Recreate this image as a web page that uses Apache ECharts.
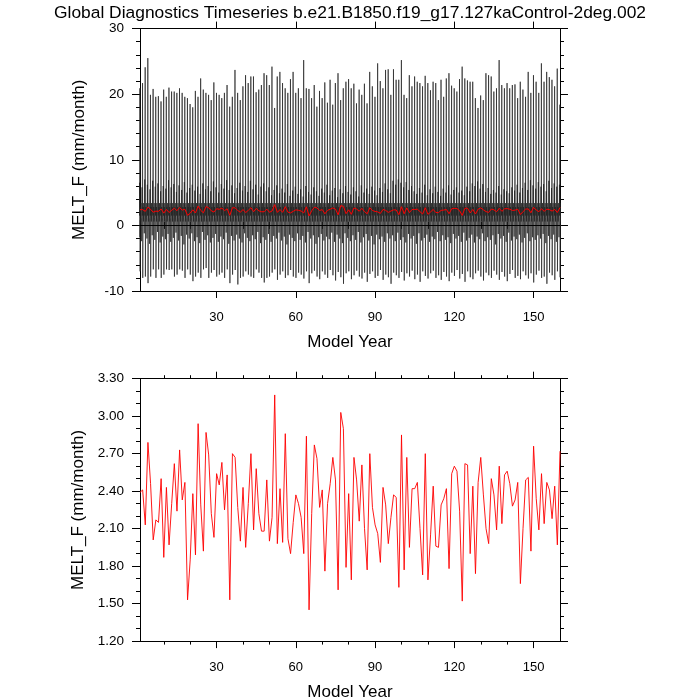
<!DOCTYPE html>
<html><head><meta charset="utf-8">
<script src="https://cdn.jsdelivr.net/npm/echarts@6/dist/echarts.min.js"></script>
<style>html,body{margin:0;padding:0;background:#fff}#c{width:700px;height:700px}</style>
</head><body><div id="c"></div>
<script>
const FONT = '"Liberation Sans", Arial, Helvetica, sans-serif';
const titleText = 'Global Diagnostics Timeseries b.e21.B1850.f19_g17.127kaControl-2deg.002';
const yName = 'MELT_F (mm/month)';
const xName = 'Model Year';

// annual means (red line), model years 1..160
const annualMean = [
2.39,2.41,2.13,2.79,2.46,2.01,2.17,2.15,2.50,1.87,
2.43,1.97,2.30,2.62,2.24,2.73,2.33,2.47,1.53,1.85,
2.38,1.89,2.94,2.29,1.92,2.87,2.69,2.22,2.03,2.54,
2.45,2.63,2.25,2.53,1.53,2.70,2.67,2.27,2.00,2.43,
1.95,2.30,2.70,2.09,2.58,2.22,2.08,2.08,2.49,2.00,
2.19,3.17,1.98,2.42,1.99,2.86,2.02,1.90,2.15,2.37,
2.30,2.19,1.90,2.84,1.45,2.22,2.77,2.66,2.27,2.41,
1.76,2.30,2.46,2.67,2.49,1.61,3.03,2.90,1.79,2.38,
1.69,2.67,2.49,2.16,2.61,2.10,1.77,2.70,2.27,2.13,
2.06,1.83,2.43,2.29,1.98,2.19,2.37,2.35,1.63,2.85,
1.77,2.67,1.95,2.42,2.42,2.47,2.10,1.73,2.70,1.69,
2.05,2.44,1.96,1.95,2.29,2.34,2.42,1.78,2.54,2.60,
2.56,2.24,1.52,2.62,2.61,1.90,2.44,1.74,2.47,2.67,
2.37,2.10,1.98,2.50,2.37,2.09,2.60,2.14,2.53,2.56,
2.46,2.28,2.33,2.47,1.66,2.10,2.49,2.51,1.92,2.76,
2.34,2.09,2.54,2.14,2.47,2.41,2.18,2.44,1.97,2.72];

// monthly series: yearly maximum month (estimated from the top panel)
const monthlyPeak = [
20.9,21.7,24.1,25.5,19.9,20.8,19.6,19.7,18.9,20.7,
19.6,21.0,20.4,20.4,20.2,20.9,20.2,19.6,19.4,18.5,
18.0,20.5,19.6,22.4,20.7,20.2,19.9,19.1,21.8,20.2,
19.9,19.4,20.2,21.4,18.1,19.6,23.7,20.2,19.1,21.2,
22.9,21.7,22.7,22.7,20.3,20.7,21.4,23.2,22.9,21.4,
24.2,17.9,22.7,23.4,21.7,20.9,20.2,22.3,23.4,20.2,
20.9,19.4,25.2,20.9,20.8,19.4,21.4,18.1,20.5,19.4,
21.8,18.7,22.2,18.4,21.7,23.2,19.1,20.9,21.9,22.3,
20.9,21.6,18.6,20.7,19.9,21.6,18.6,23.4,21.2,19.6,
24.7,22.0,20.9,23.7,23.8,19.9,23.8,22.2,22.2,25.2,
19.9,19.4,22.9,21.2,22.7,21.9,21.7,21.2,22.8,21.7,
20.6,21.9,21.7,19.1,22.2,19.6,22.4,23.2,21.3,20.9,
20.4,22.3,24.2,22.4,22.1,21.9,21.9,19.4,17.9,19.8,
19.1,23.2,22.9,22.7,20.4,20.9,25.2,21.4,20.9,21.7,
20.9,21.4,21.5,19.4,21.9,20.7,19.6,23.4,20.2,22.9,
21.9,20.2,24.7,21.9,23.4,22.6,22.2,21.2,23.9,18.4];

// monthly series: yearly minimum month (estimated)
const monthlyTrough = [
-7.0,-8.0,-7.8,-8.8,-7.8,-6.7,-8.0,-6.7,-8.0,-7.5,
-6.7,-6.8,-6.7,-7.8,-7.5,-6.7,-6.9,-8.0,-6.7,-7.5,
-8.5,-7.8,-7.2,-8.0,-6.7,-6.5,-8.0,-7.2,-6.8,-7.8,
-7.5,-7.2,-8.0,-6.7,-8.8,-7.5,-6.8,-9.0,-8.0,-7.8,
-7.0,-7.5,-7.8,-8.0,-6.7,-7.2,-8.0,-8.7,-8.0,-7.8,
-7.2,-6.7,-8.3,-7.5,-7.0,-8.0,-7.6,-6.8,-7.8,-8.0,
-7.2,-7.5,-8.1,-7.0,-8.8,-7.3,-6.9,-7.8,-8.2,-7.0,
-7.5,-8.0,-6.8,-7.6,-8.4,-7.1,-7.9,-8.9,-7.3,-7.0,
-8.2,-7.6,-6.9,-7.8,-8.1,-7.2,-8.6,-7.4,-7.0,-8.0,
-7.7,-6.8,-8.3,-7.5,-7.9,-8.9,-7.2,-7.6,-8.0,-7.1,
-8.4,-7.3,-7.8,-6.9,-8.2,-7.5,-8.6,-7.0,-7.7,-8.1,
-7.3,-6.9,-8.0,-7.6,-8.3,-7.1,-7.8,-8.5,-7.2,-7.7,
-6.8,-8.1,-7.4,-8.6,-7.0,-7.9,-8.2,-7.3,-6.9,-7.8,
-8.4,-7.2,-7.6,-8.0,-6.9,-7.5,-8.3,-7.1,-7.8,-8.5,
-7.4,-6.8,-8.0,-7.7,-8.2,-7.0,-7.6,-8.1,-7.3,-8.7,
-7.5,-6.9,-8.0,-7.8,-8.9,-7.2,-7.6,-8.3,-7.0,-7.9];

// monthly series: highest of the ordinary months each year (upper edge of the dark band, estimated)
const bandHigh = [
6.5,5.8,7.0,6.2,5.5,6.8,5.9,6.4,5.2,6.0,
5.6,6.9,5.8,6.3,5.1,6.1,5.4,6.6,5.0,5.7,
6.2,5.3,5.9,4.8,6.4,5.5,6.0,5.2,6.7,5.8,
5.0,6.3,5.6,6.9,5.4,6.1,4.9,5.7,6.5,5.3,
6.0,5.1,6.8,5.5,6.2,4.7,5.9,6.4,5.2,5.8,
4.6,5.4,6.1,4.9,5.6,5.0,6.3,4.5,5.3,5.9,
4.8,5.5,4.4,6.0,5.1,4.7,5.8,5.2,4.5,5.6,
5.0,6.2,4.6,5.3,5.7,4.3,5.5,4.9,6.0,5.1,
4.7,5.8,5.2,4.4,6.1,5.0,5.6,4.8,5.9,5.3,
4.6,5.7,5.1,6.4,5.5,4.9,6.8,6.2,7.0,6.5,
5.8,6.6,5.4,6.0,5.2,4.8,5.7,5.0,6.2,4.6,
5.5,4.9,5.9,5.1,4.5,5.6,5.0,6.1,4.7,5.4,
5.8,5.0,5.3,4.6,5.9,5.2,6.4,6.0,6.7,5.6,
6.3,5.1,5.7,4.8,5.4,5.0,6.0,4.7,5.5,5.2,
4.9,5.8,5.3,6.2,5.0,5.7,6.5,5.4,6.9,6.1,
5.6,6.6,5.9,6.3,5.2,6.8,5.7,6.4,5.9,6.2];

// monthly series: lowest of the ordinary months each year (lower edge of the dark band, estimated)
const bandLow = [
-1.8,-2.4,-1.2,-2.0,-2.8,-1.5,-2.2,-1.0,-2.6,-1.7,
-2.1,-1.3,-2.5,-1.9,-1.1,-2.3,-1.6,-2.9,-1.4,-2.0,
-1.2,-2.4,-1.8,-2.7,-1.0,-2.2,-1.5,-2.6,-1.9,-1.3,
-2.5,-1.7,-2.1,-1.1,-2.8,-1.6,-2.3,-1.4,-2.0,-2.6,
-1.2,-1.9,-2.4,-1.5,-2.1,-1.0,-2.7,-1.8,-2.2,-1.3,
-2.5,-1.6,-2.0,-1.1,-2.3,-1.7,-2.9,-1.4,-1.9,-2.4,
-1.2,-2.2,-1.6,-2.6,-1.0,-2.0,-1.5,-2.8,-1.8,-1.3,
-2.3,-1.7,-2.1,-1.1,-2.5,-1.4,-2.0,-2.7,-1.2,-1.9,
-2.4,-1.5,-2.2,-1.0,-2.6,-1.8,-1.3,-2.3,-1.6,-2.9,
-1.4,-2.1,-1.7,-2.5,-1.2,-2.0,-1.5,-2.4,-1.1,-2.2,
-1.8,-2.6,-1.3,-2.0,-1.6,-2.8,-1.2,-2.3,-1.9,-1.4,
-2.5,-1.7,-2.1,-1.0,-2.4,-1.5,-2.2,-1.8,-2.7,-1.3,
-2.0,-1.6,-2.5,-1.1,-2.3,-1.9,-1.4,-2.6,-1.7,-2.1,
-1.2,-2.4,-1.8,-2.2,-1.5,-2.9,-1.3,-2.0,-1.6,-2.5,
-1.1,-2.3,-1.7,-2.1,-1.4,-2.6,-1.9,-1.2,-2.4,-1.8,
-2.2,-1.5,-2.0,-1.3,-2.7,-1.6,-2.1,-1.4,-2.5,-1.8];

// remaining eight months of a year, typical values (estimated from the dark core of the band)
const typicalMonths = [0.8, 2.2, 1.5, -0.4, 2.8, 0.6, 3.4, 1.2];

const xMajorTicks = [30, 60, 90, 120, 150];
const xMinorTicks = [10, 20, 40, 50, 70, 80, 100, 110, 130, 140];
const yTicksTop = [-10, 0, 10, 20, 30];
const yTicksBottom = [1.20, 1.50, 1.80, 2.10, 2.40, 2.70, 3.00, 3.30];

const years = annualMean.map((_, i) => i + 1);
const annualData = years.map((y, i) => [y, annualMean[i]]);
const monthlyData = [];
years.forEach((y, i) => {
  const t = typicalMonths;
  const months = [t[0], bandLow[i], t[1], bandHigh[i], t[2], monthlyPeak[i], monthlyTrough[i],
                  t[3], t[4], t[5], t[6], t[7]];
  months.forEach((v, m) => monthlyData.push([y - 0.5 + (m + 0.5) / 12, v]));
});

const BLACK = '#000';
const GRID_L = 140, GRID_W = 420, GRID_H = 262.4;
const grids = [
  {left: GRID_L, top: 28.6, width: GRID_W, height: GRID_H, containLabel: false, outerBoundsMode: 'none'},
  {left: GRID_L, top: 378.7, width: GRID_W, height: GRID_H, containLabel: false, outerBoundsMode: 'none'}
];

function xAxes(g) {
  const base = {gridIndex: g, type: 'value', min: years[0], max: years[years.length - 1],
    splitLine: {show: false}, axisLine: {show: true, onZero: false, lineStyle: {color: BLACK, width: 1}}};
  return [
    Object.assign({}, base, {position: 'bottom',
      axisTick: {show: true, inside: false, length: 7, customValues: xMajorTicks, lineStyle: {color: BLACK, width: 1}},
      axisLabel: {show: true, customValues: xMajorTicks, margin: 20, fontSize: 13, color: BLACK, fontFamily: FONT},
      name: xName, nameLocation: 'middle', nameGap: 42.5,
      nameTextStyle: {fontSize: 17, color: BLACK, fontFamily: FONT}}),
    Object.assign({}, base, {position: 'bottom', axisLine: {show: false},
      axisTick: {show: true, inside: false, length: 3.5, customValues: xMinorTicks, lineStyle: {color: BLACK, width: 1}},
      axisLabel: {show: false}}),
    Object.assign({}, base, {position: 'top',
      axisTick: {show: true, inside: false, length: 7, customValues: xMajorTicks, lineStyle: {color: BLACK, width: 1}},
      axisLabel: {show: false}}),
    Object.assign({}, base, {position: 'top', axisLine: {show: false},
      axisTick: {show: true, inside: false, length: 3.5, customValues: xMinorTicks, lineStyle: {color: BLACK, width: 1}},
      axisLabel: {show: false}})
  ];
}

function yAxes(g, ticks, minorSplit, fmt) {
  const step = ticks[1] - ticks[0];
  const base = {gridIndex: g, type: 'value', min: ticks[0], max: ticks[ticks.length - 1], interval: step,
    splitLine: {show: false}, axisLine: {show: true, onZero: false, lineStyle: {color: BLACK, width: 1}},
    axisTick: {show: true, inside: false, length: 8, lineStyle: {color: BLACK, width: 1}},
    minorTick: {show: true, splitNumber: minorSplit, length: 4, lineStyle: {color: BLACK, width: 1}}};
  return [
    Object.assign({}, base, {position: 'left',
      axisLabel: {show: true, margin: 16, fontSize: 13.5, color: BLACK, fontFamily: FONT, formatter: fmt},
      name: yName, nameLocation: 'middle', nameGap: 52,
      nameTextStyle: {fontSize: 17, color: BLACK, fontFamily: FONT}}),
    Object.assign({}, base, {position: 'right', axisLabel: {show: false}})
  ];
}

const option = {
  backgroundColor: '#fff',
  animation: false,
  title: {text: titleText, left: 'center', top: 0,
    textStyle: {fontSize: 17.4, fontWeight: 'normal', color: BLACK, fontFamily: FONT}},
  grid: grids,
  xAxis: xAxes(0).concat(xAxes(1)),
  yAxis: yAxes(0, yTicksTop, 5, v => String(Math.round(v))).concat(
         yAxes(1, yTicksBottom, 3, v => v.toFixed(2))),
  series: [
    {type: 'line', xAxisIndex: 0, yAxisIndex: 0, data: monthlyData, symbol: 'none',
      lineStyle: {color: '#222', width: 0.7}, silent: true,
      markLine: {silent: true, symbol: 'none', label: {show: false},
        lineStyle: {color: BLACK, width: 1, type: 'solid'}, data: [{yAxis: 0}]}},
    {type: 'line', xAxisIndex: 0, yAxisIndex: 0, data: annualData, symbol: 'none',
      lineStyle: {color: '#ff0000', width: 1}, silent: true},
    {type: 'line', xAxisIndex: 4, yAxisIndex: 2, data: annualData, symbol: 'none',
      lineStyle: {color: '#ff0000', width: 0.9}, silent: true}
  ]
};
const chart = echarts.init(document.getElementById('c'), null, {renderer: 'canvas'});
chart.setOption(option);
</script></body></html>
